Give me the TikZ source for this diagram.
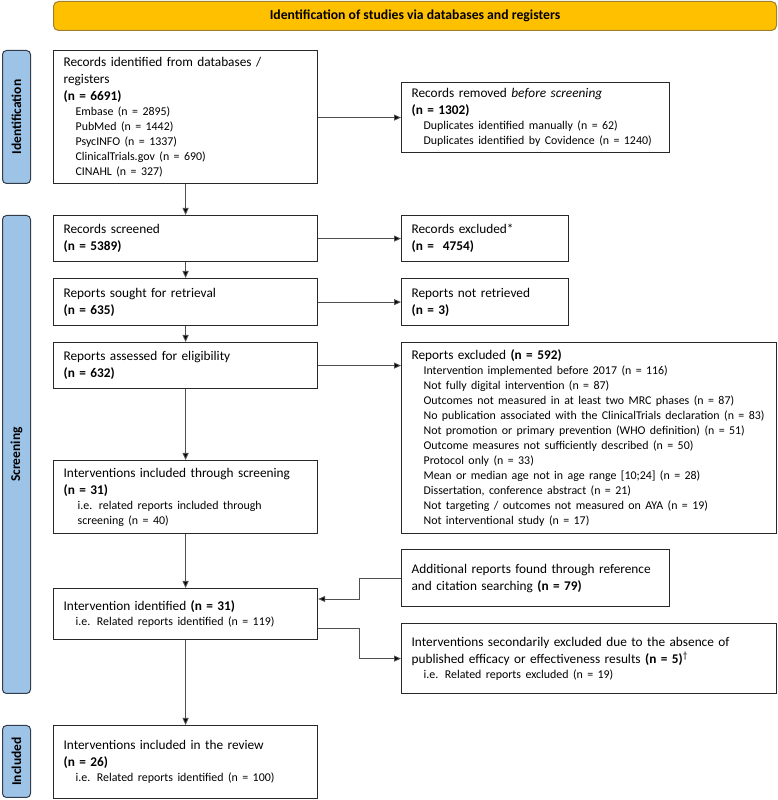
\documentclass[tikz,border=0pt]{standalone}
\usepackage{fontspec}
\setmainfont{Carlito}
\usetikzlibrary{arrows.meta}
\definecolor{bannerfill}{RGB}{255,192,0}
\definecolor{bannerdraw}{RGB}{160,128,40}
\definecolor{sidefill}{RGB}{157,195,230}
\definecolor{sidedraw}{RGB}{50,60,75}
\definecolor{boxdraw}{RGB}{40,40,40}
\definecolor{linecol}{RGB}{80,80,80}
\newcommand\mainf{\fontsize{13.3}{17}\selectfont}
\newcommand\subf{\fontsize{11.9}{15}\selectfont}
\newcommand\ind{\hspace*{12pt}}
\begin{document}
\begin{tikzpicture}[x=1pt,y=1pt,
  flowbox/.style={draw=boxdraw,line width=1.2pt,fill=white,anchor=north west,
    inner xsep=10pt,inner ysep=0pt,align=left,font=\mainf},
  sidebox/.style={draw=sidedraw,line width=1pt,fill=sidefill,rounded corners=4pt,
    anchor=north west,inner sep=0pt},
  sidetext/.style={rotate=90,font=\fontsize{13.5}{15}\selectfont\bfseries},
  conn/.style={draw=linecol,line width=0.9pt,-{Triangle[length=7pt,width=6pt,fill=black]}}]
\useasboundingbox (0,0) rectangle (778,800);
% banner
\node[draw=bannerdraw,line width=1pt,fill=bannerfill,rounded corners=5pt,anchor=north west,
  minimum width=723pt,minimum height=29pt,inner sep=0pt,font=\fontsize{13.7}{15}\selectfont\bfseries]
  (banner) at (53,799) {Identification of studies via databases and registers};
% side labels
\node[sidebox,minimum width=28pt,minimum height=133pt] (sidA) at (2,750) {};
\node[sidetext] (sidAt) at (sidA.center) {Identification};
\node[sidebox,minimum width=28pt,minimum height=478pt] (sidB) at (2,585) {};
\node[sidetext] (sidBt) at (sidB.center) {Screening};
\node[sidebox,minimum width=28pt,minimum height=72pt] (sidC) at (2,75) {};
\node[sidetext] (sidCt) at (sidC.center) {Included};
% main column
\node[flowbox,text width=244pt,minimum height=133pt] (ident) at (53,750)
 {Records identified from databases /\\ registers\\ \textbf{(n = 6691)}\par
  {\subf\ind Embase (n = 2895)\\ \ind PubMed (n = 1442)\\ \ind PsycINFO (n = 1337)\\
   \ind ClinicalTrials.gov (n = 690)\\ \ind CINAHL (n = 327)\par}};
\node[flowbox,text width=244pt,minimum height=46pt] (screen) at (53,585)
 {Records screened\\ \textbf{(n = 5389)}};
\node[flowbox,text width=244pt,minimum height=47pt] (sought) at (53,522)
 {Reports sought for retrieval\\ \textbf{(n = 635)}};
\node[flowbox,text width=244pt,minimum height=46pt] (assess) at (53,458)
 {Reports assessed for eligibility\\ \textbf{(n = 632)}};
\node[flowbox,text width=244pt,minimum height=73pt] (incl) at (53,340)
 {Interventions included through screening\\ \textbf{(n = 31)}\par
  {\subf\hspace*{14pt}i.e. related reports included through\\ \hspace*{14pt}screening (n = 40)\par}};
\node[flowbox,text width=244pt,minimum height=51pt] (identif) at (53,212)
 {Intervention identified \textbf{(n = 31)}\par
  {\subf\ind i.e. Related reports identified (n = 119)\par}};
\node[flowbox,text width=244pt,minimum height=73pt] (review) at (53,75)
 {Interventions included in the review\\ \textbf{(n = 26)}\par
  {\subf\ind i.e. Related reports identified (n = 100)\par}};
% right column
\node[flowbox,text width=248pt,minimum height=70pt] (removed) at (401,718)
 {Records removed \textit{before screening}\\ \textbf{(n = 1302)}\par
  {\subf\ind Duplicates identified manually (n = 62)\\ \ind Duplicates identified by Covidence (n = 1240)\par}};
\node[flowbox,text width=147pt,minimum height=46pt] (excl) at (401,585)
 {Records excluded*\\ \textbf{(n =\ \ 4754)}};
\node[flowbox,text width=147pt,minimum height=47pt] (notret) at (401,522)
 {Reports not retrieved\\ \textbf{(n = 3)}};
\node[flowbox,text width=355pt,minimum height=191pt] (repexcl) at (401,458)
 {Reports excluded \textbf{(n = 592)}\par
  {\subf\ind Intervention implemented before 2017 (n = 116)\\
   \ind Not fully digital intervention (n = 87)\\
   \ind Outcomes not measured in at least two MRC phases (n = 87)\\
   \ind No publication associated with the ClinicalTrials declaration (n = 83)\\
   \ind Not promotion or primary prevention (WHO definition) (n = 51)\\
   \ind Outcome measures not sufficiently described (n = 50)\\
   \ind Protocol only (n = 33)\\
   \ind Mean or median age not in age range [10;24] (n = 28)\\
   \ind Dissertation, conference abstract (n = 21)\\
   \ind Not targeting / outcomes not measured on AYA (n = 19)\\
   \ind Not interventional study (n = 17)\par}};
\node[flowbox,text width=248pt,minimum height=57pt] (addit) at (401,251)
 {Additional reports found through reference\\ and citation searching \textbf{(n = 79)}};
\node[flowbox,text width=355pt,minimum height=70pt] (second) at (401,177)
 {Interventions secondarily excluded due to the absence of\\
  published efficacy or effectiveness results \textbf{(n = 5)}\textsuperscript{\dag}\par
  {\subf\ind i.e. Related reports excluded (n = 19)\par}};
% vertical connectors
\draw[conn] (ident.south) -- (screen.north);
\draw[conn] (screen.south) -- (sought.north);
\draw[conn] (sought.south) -- (assess.north);
\draw[conn] (assess.south) -- (incl.north);
\draw[conn] (incl.south) -- (identif.north);
\draw[conn] (identif.south) -- (review.north);
% horizontal connectors
\draw[conn] (ident.east |- removed.west) -- (removed.west);
\draw[conn] (screen.east) -- (excl.west);
\draw[conn] (sought.east) -- (notret.west);
\draw[conn] (assess.east) -- (repexcl.west |- assess.east);
\coordinate (bendA) at (359,201);
\coordinate (bendB) at (359,172);
\draw[conn] (addit.west) -| (bendA) -- (identif.east |- bendA);
\draw[conn] (identif.east |- bendB) -- (bendB) |- (second.west);
\end{tikzpicture}
\end{document}
